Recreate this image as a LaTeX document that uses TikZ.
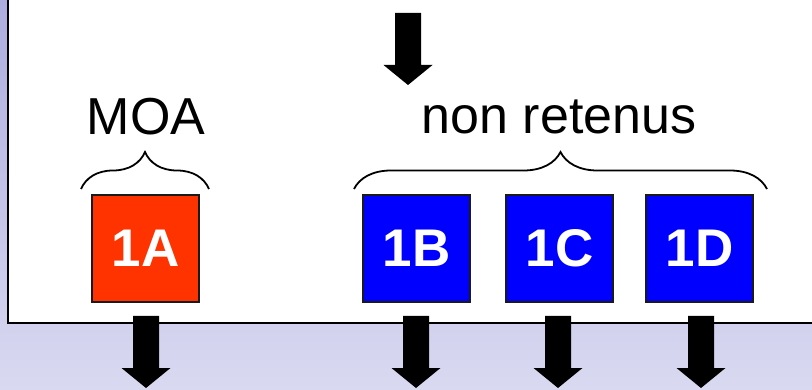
\documentclass[tikz,border=0pt]{standalone}
\usepackage{fontspec}
\setmainfont{Liberation Sans}
\usetikzlibrary{decorations.pathreplacing}
\definecolor{bgtop}{HTML}{ADADDF}
\definecolor{bgbot}{HTML}{D9D9F1}
\definecolor{boxred}{HTML}{FF3300}
\definecolor{boxblue}{HTML}{0000FF}
\definecolor{boxline}{HTML}{1A1A1A}
\tikzset{
  catbox/.style={draw=boxline, line width=1.8pt, minimum width=107pt, minimum height=107pt,
    inner sep=0pt, text=white, font=\fontsize{53}{60}\selectfont\bfseries},
  biglabel/.style={anchor=base, inner sep=0pt, font=\fontsize{52}{60}\selectfont},
  bracestyle/.style={draw, line width=1.8pt, decorate, decoration={brace, amplitude=37pt}},
  downarrow/.pic={\fill[black] (-13,0) -- (13,0) -- (13,52) -- (24.5,52) -- (0,72) -- (-24.5,52) -- (-13,52) -- cycle;}
}
\begin{document}
\begin{tikzpicture}[x=1pt,y=-1pt]
\useasboundingbox (0,0) rectangle (812,390);
\clip (0,0) rectangle (812,390);
\shade[top color=bgtop, bottom color=bgbot] (0,0) rectangle (812,390);
\draw[fill=white, line width=2pt] (8,-10) rectangle (830,323);
% boxes
\node[catbox, fill=boxred]  (a) at (145.5,248.5) {1A};
\node[catbox, fill=boxblue] (b) at (416.5,248.5) {1B};
\node[catbox, fill=boxblue] (c) at (559.5,248.5) {1C};
\node[catbox, fill=boxblue] (d) at (699.5,248.5) {1D};
% labels
\node[biglabel] (moa) at (146,135) {MOA};
\node[biglabel] (nr) at (559,134) {non retenus};
% braces
\coordinate (b1l) at (81,189);
\coordinate (b1r) at (209,189);
\coordinate (b2l) at (354,189);
\coordinate (b2r) at (767,189);
\draw[bracestyle] (b1l) -- (b1r);
\draw[bracestyle] (b2l) -- (b2r);
% arrows
\pic at (408,13) {downarrow};
\pic at (146,316) {downarrow};
\pic at (416,316) {downarrow};
\pic at (558,316) {downarrow};
\pic at (701,316) {downarrow};
\end{tikzpicture}
\end{document}
